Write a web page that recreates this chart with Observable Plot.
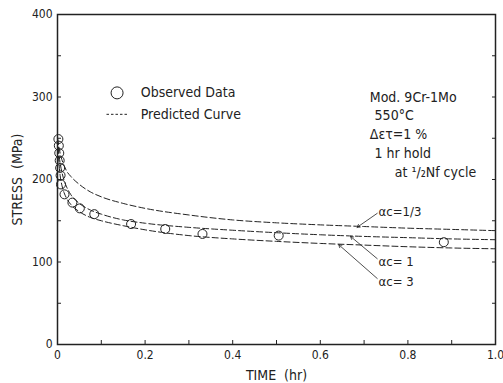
<!DOCTYPE html>
<html>
<head>
<meta charset="utf-8">
<script src="https://cdn.jsdelivr.net/npm/d3@7"></script>
<script src="https://cdn.jsdelivr.net/npm/@observablehq/plot@0.6"></script>
<style>
  html, body { margin: 0; padding: 0; background: #fff; }
  #chart svg { display: block; font-stretch: condensed; }
</style>
</head>
<body>
<div id="chart"></div>
<script>
// ---- data ----
const obsTime   = [0.002, 0.003, 0.004, 0.005, 0.006, 0.007, 0.008, 0.016, 0.034, 0.051, 0.084, 0.168, 0.246, 0.331, 0.505, 0.882];
const obsStress = [249,   241,   232,   223,   214,   205,   194,   182,   172,   165,   158,   146,   140,   134,   132,   124];

const curveTime = [0, 0.003, 0.006, 0.01, 0.015, 0.02, 0.03, 0.05, 0.075, 0.1, 0.15, 0.2, 0.3, 0.4, 0.5, 0.6, 0.7, 0.8, 0.9, 1.0];
const curveA13  = [250, 240, 232, 224, 217, 211, 204, 194, 185, 179, 171, 165, 157, 151, 147.5, 145, 143, 141, 139.5, 138];
const curveA1   = [250, 232, 220, 209, 199, 192, 182, 171, 163, 158, 151, 147, 142, 138.5, 135.5, 133, 131, 129.5, 128, 127];
const curveA3   = [250, 222, 205, 193, 184, 178, 170, 161, 154, 150, 144, 139, 132, 128, 125, 122.5, 120.5, 118.5, 117, 116];

const yTickLabels = [0, 100, 200, 300, 400];
const xTickLabels = [0, 0.2, 0.4, 0.6, 0.8, 1.0];

const seriesNames = ["αc=1/3", "αc= 1", "αc= 3"];
const seriesValues = [curveA13, curveA1, curveA3];

// ---- build tables ----
const observed = obsTime.map((t, i) => ({t, v: obsStress[i]}));
const curves = seriesNames.flatMap((name, k) =>
  curveTime.map((t, i) => ({name, t, v: seriesValues[k][i]})));

// annotation anchors (data coordinates)
const labelTable = [
  {name: seriesNames[0], t: 0.733, v: 161, tipT: 0.684, tipV: 142},
  {name: seriesNames[1], t: 0.733, v: 100, tipT: 0.669, tipV: 131},
  {name: seriesNames[2], t: 0.733, v: 76,  tipT: 0.642, tipV: 121}
];
const infoLines = [
  {text: "Mod. 9Cr-1Mo", t: 0.713, v: 299},
  {text: "550°C",         t: 0.724, v: 277},
  {text: "Δετ=1 %",       t: 0.713, v: 254},
  {text: "1 hr hold",     t: 0.724, v: 231},
  {text: "at ¹/₂Nf cycle", t: 0.770, v: 208}
];

const font = "'DejaVu Sans Condensed', 'DejaVu Sans', sans-serif";
const ink = "#222";

const chart = Plot.plot({
  width: 503,
  height: 383,
  marginLeft: 57,
  marginRight: 8,
  marginTop: 14,
  marginBottom: 39,
  x: {domain: [0, 1]},
  y: {domain: [0, 400]},
  style: {fontFamily: font, fontSize: "12px", color: ink, background: "#fff", overflow: "visible"},
  marks: [
    Plot.frame({stroke: ink, strokeWidth: 1.5}),
    // y labels
    Plot.axisY({ticks: yTickLabels, tickSize: 0, tickPadding: 5, label: null, fontSize: 12}),
    Plot.axisY({ticks: d3.range(50, 400, 50), tickSize: -4, tickFormat: () => "", label: null}),
    Plot.axisY({anchor: "right", ticks: d3.range(50, 400, 50), tickSize: -4, tickFormat: () => "", label: null}),
    // x labels
    Plot.axisX({ticks: xTickLabels, tickSize: 0, tickPadding: 6, label: null, fontSize: 12,
                tickFormat: d => d === 0 ? "0" : d.toFixed(1)}),
    Plot.axisX({ticks: d3.range(1, 10).map(i => i / 10), tickSize: -4, tickFormat: () => "", label: null}),
    // axis titles
    Plot.text(["TIME\u00a0\u00a0(hr)"], {frameAnchor: "bottom", textAnchor: "middle", lineAnchor: "middle", dy: 31, fontSize: 14, fill: ink}),
    Plot.text(["STRESS\u00a0\u00a0(MPa)"], {frameAnchor: "left", textAnchor: "middle", lineAnchor: "middle", dx: -40, rotate: -90, fontSize: 14, fill: ink}),
    // predicted curves
    Plot.line(curves, {x: "t", y: "v", z: "name", curve: "monotone-x",
                       stroke: ink, strokeWidth: 1, strokeDasharray: "6,3"}),
    // observed data
    Plot.dot(observed, {x: "t", y: "v", r: 4.5, stroke: ink, strokeWidth: 1, fill: "none"}),
    // legend
    Plot.dot([{t: 0.136, v: 305}], {x: "t", y: "v", r: 6, stroke: ink, strokeWidth: 1, fill: "none"}),
    Plot.text([{t: 0.19, v: 305, s: "Observed Data"}], {x: "t", y: "v", text: "s", textAnchor: "start", fontSize: 14, fill: ink}),
    Plot.ruleY([279], {x1: 0.113, x2: 0.162, stroke: ink, strokeWidth: 1, strokeDasharray: "2.5,2"}),
    Plot.text([{t: 0.19, v: 279, s: "Predicted Curve"}], {x: "t", y: "v", text: "s", textAnchor: "start", fontSize: 14, fill: ink}),
    // info block
    Plot.text(infoLines, {x: "t", y: "v", text: "text", textAnchor: "start", fontSize: 14, fill: ink}),
    // series labels + arrows
    Plot.arrow(labelTable, {x1: d => d.t - 0.003, y1: d => d.v + (d.v > 150 ? -2 : 4), x2: "tipT", y2: "tipV",
                            stroke: ink, strokeWidth: 0.8, headLength: 6}),
    Plot.text(labelTable, {x: "t", y: "v", text: "name", textAnchor: "start", fontSize: 13, fill: ink})
  ]
});

document.getElementById("chart").appendChild(chart);
</script>
</body>
</html>
